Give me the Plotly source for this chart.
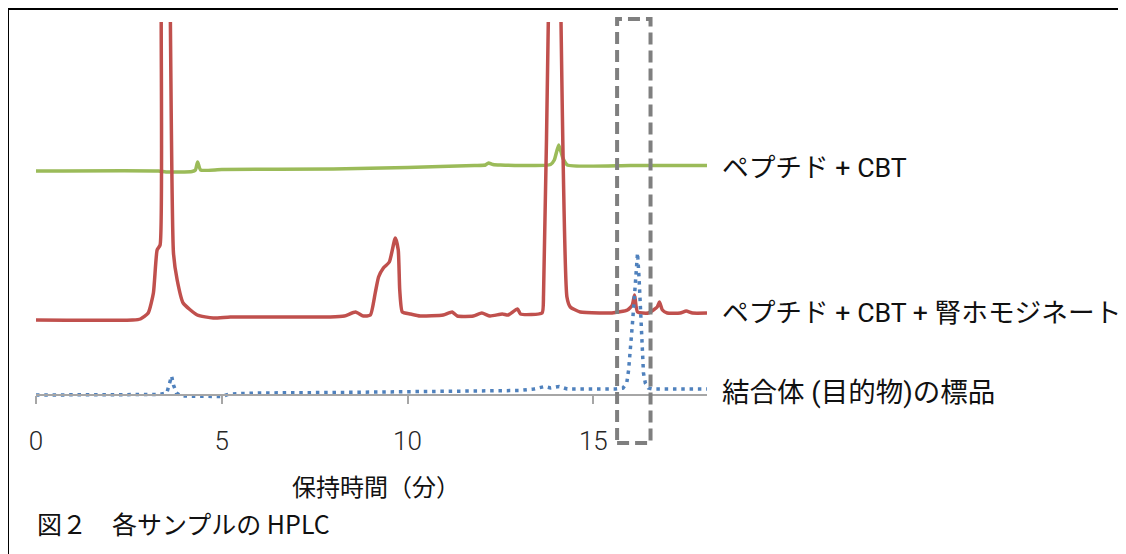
import plotly.graph_objects as go

# ---- data (retention time in min, detector signal in arbitrary units, traces stacked) ----
green_x = [0, 3.3, 3.5, 4.2, 4.29, 4.35, 4.43, 5.0, 8.0, 10.0, 11.8, 12.1, 12.18, 12.3, 12.5,
           13.85, 13.95, 14.07, 14.18, 14.3, 16.0, 18.06]
green_y = [224, 224, 223, 223.5, 225, 233, 225, 225.5, 226, 227.5, 229.5, 230, 232, 230.5, 230,
           230.5, 235, 250, 237, 230, 229.5, 229.5]

red_x = [0, 2.6, 2.81, 3.02, 3.16, 3.26, 3.34, 3.37, 3.49, 3.61, 3.70, 3.80, 3.96, 4.34, 4.77,
         5.23, 6.5, 7.92, 8.3, 8.6, 8.81, 9.0, 9.13, 9.22, 9.35, 9.51, 9.67, 9.75, 9.79, 9.86,
         10.08, 10.34, 10.96, 11.2, 11.34, 11.77, 12.0, 12.22, 12.55, 12.71, 12.96, 13.04, 13.62,
         13.66, 13.80, 13.96, 14.12, 14.29, 14.38, 14.65, 15.2, 15.5, 15.92, 16.05, 16.11, 16.19,
         16.48, 16.72, 16.78, 16.86, 16.99, 17.34, 17.5, 17.67, 18.06]
red_y = [75, 75, 76, 82, 102, 145, 150, 400, 900, 400, 142, 115, 92, 80, 77,
         78, 78, 78, 79, 83, 79, 80, 102, 118, 127, 133, 157, 145, 105, 83,
         81, 79, 80, 83, 79, 79, 82, 79, 81, 80, 86, 81, 82,
         100, 400, 900, 400, 98, 88, 83, 82, 82, 85, 90, 100, 83,
         82, 88, 93, 85, 82, 82, 84, 82, 82]

blue_x = [0, 3.3, 3.52, 3.6, 3.65, 3.7, 3.78, 3.9, 4.5, 5.0, 5.2, 6.0, 8.0, 10.0, 12.0, 13.0,
          13.4, 13.69, 13.85, 14.08, 14.3, 15.0, 15.6, 15.8, 15.9, 15.95, 16.0, 16.05, 16.1,
          16.15, 16.19, 16.23, 16.27, 16.31, 16.35, 16.4, 16.48, 16.6, 18.06]
blue_y = [0, 0.5, 2, 12, 19, 10, 2, -1, -1.5, -1.5, 1, 2, 2.5, 3, 3.5, 4.5,
          6, 8.5, 7, 8.5, 6, 6, 6, 7, 12, 25, 45, 70, 95,
          120, 142, 118, 85, 52, 22, 12, 7, 6, 6]

series_names = ["ペプチド + CBT", "ペプチド + CBT + 腎ホモジネート", "結合体 (目的物)の標品"]
tick_vals = [0, 5, 10, 15]
x_title = "保持時間（分）"
caption = "図２　各サンプルの HPLC"
box_x = [15.64, 16.54]   # highlighted retention window

# ---- layout geometry (pixels; page body adds an 8px offset) ----
W, H = 1118, 546
L, R, T, B = 28, 419, 14, 154
PW, PH = W - L - R, H - T - B
X0, YB = 36, 400   # plot-area left / bottom in screen pixels
Y_LOW = -5         # y value at bottom of plot area (axis line sits at y=0)


def px_x(p):
    return (p - X0) / PW


def px_y(p):
    return (YB - p) / PH


GREEN, RED, BLUE = "#9BBB59", "#C0504D", "#4F81BD"
LBL_FONT = dict(family="Roboto, 'Noto Sans CJK JP', sans-serif", size=26.7, color="#111111")
JP_FONT = dict(family="'Noto Sans CJK JP', sans-serif", size=25, color="#111111")

fig = go.Figure()
fig.add_trace(go.Scatter(x=green_x, y=green_y, mode="lines", name=series_names[0],
                         line=dict(color=GREEN, width=3.5, shape="spline", smoothing=0.5)))
fig.add_trace(go.Scatter(x=red_x, y=red_y, mode="lines", name=series_names[1],
                         line=dict(color=RED, width=3.5, shape="spline", smoothing=0.5)))
fig.add_trace(go.Scatter(x=blue_x, y=blue_y, mode="lines", name=series_names[2],
                         line=dict(color=BLUE, width=3.5, dash="3.5px,4.8px")))

annotations = []
yshifts = [-2, 0, -3]
sizes = [26.7, 26.7, 27.5]
for name, ys, ysh, sz in zip(series_names, [green_y, red_y, blue_y], yshifts, sizes):
    annotations.append(dict(x=1, xref="paper", y=ys[-1], yref="y", text=name, showarrow=False,
                            xanchor="left", yanchor="middle", xshift=13, yshift=ysh,
                            font=dict(LBL_FONT, size=sz)))
annotations.append(dict(x=px_x(290), xref="paper", y=px_y(485), yref="paper", text=x_title,
                        showarrow=False, xanchor="left", yanchor="middle",
                        font=dict(JP_FONT, size=24)))
annotations.append(dict(x=px_x(35), xref="paper", y=px_y(523), yref="paper", text=caption,
                        showarrow=False, xanchor="left", yanchor="middle", font=JP_FONT))

shapes = [
    dict(type="rect", xref="x", yref="paper", x0=box_x[0], x1=box_x[1],
         y0=px_y(443), y1=px_y(19), line=dict(color="#7F7F7F", width=4, dash="12px,6px"),
         fillcolor="rgba(0,0,0,0)", layer="above"),
    dict(type="line", xref="paper", yref="paper", x0=px_x(8), x1=px_x(8), y0=px_y(8), y1=px_y(570),
         line=dict(color="#000000", width=2)),
    dict(type="line", xref="paper", yref="paper", x0=px_x(7), x1=px_x(1140), y0=px_y(9), y1=px_y(9),
         line=dict(color="#000000", width=2)),
]

fig.update_layout(
    width=W, height=H,
    margin=dict(l=L, r=R, t=T, b=B, pad=0),
    paper_bgcolor="white", plot_bgcolor="white",
    showlegend=False,
    annotations=annotations,
    shapes=shapes,
    xaxis=dict(range=[0, 18.06], tickvals=tick_vals, ticktext=[str(v) for v in tick_vals],
               anchor="free", position=px_y(395),
               showgrid=False, zeroline=False, showline=True, linecolor="#A6A6A6", linewidth=1.5,
               ticks="outside", ticklen=8, tickwidth=1.5, tickcolor="#A6A6A6",
               ticklabelstandoff=15,
               tickfont=dict(family="Roboto, sans-serif", size=26, color="#262626", weight=300)),
    yaxis=dict(range=[Y_LOW, PH + Y_LOW], visible=False, showgrid=False, zeroline=False),
)

fig.write_html("out.html")
